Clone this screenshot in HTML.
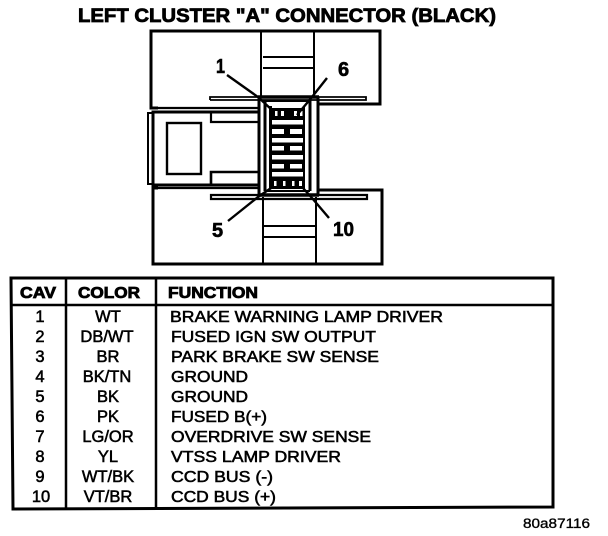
<!DOCTYPE html>
<html>
<head>
<meta charset="utf-8">
<style>
html,body{margin:0;padding:0;background:#fff;width:608px;height:536px;overflow:hidden}
svg{display:block}
text{font-family:"Liberation Sans",sans-serif;fill:#000}
.r{font-size:15.5px;stroke:#000;stroke-width:.55}
.c{font-size:16.5px;stroke:#000;stroke-width:.55}
.h{font-size:15.5px;font-weight:bold;stroke:#000;stroke-width:.8}
.n{font-size:20px;font-weight:bold;stroke:#000;stroke-width:.6}
</style>
</head>
<body>
<svg width="608" height="536" viewBox="0 0 608 536" xmlns="http://www.w3.org/2000/svg">
<text x="78" y="22" font-size="19.5" font-weight="bold" stroke="#000" stroke-width=".8" textLength="418" lengthAdjust="spacingAndGlyphs">LEFT CLUSTER "A" CONNECTOR (BLACK)</text>

<g fill="none" stroke="#000">
  <!-- top shell -->
  <path d="M158 108 H151 V31 H380 V104 H318" stroke-width="3"/>
  <path d="M261 31 V97 M314 31 V97" stroke-width="2"/>
  <path d="M263 57 H314 M263 68 H314" stroke-width="2"/>
  <path d="M210 100 V97 H366 V100 H210" stroke-width="1.8"/>
  <!-- bottom shell -->
  <path d="M158 188 H153 V264 H382 V190 H318" stroke-width="3"/>
  <path d="M263 197 V264 M316 197 V264" stroke-width="2"/>
  <path d="M264 226 H316 M264 237 H316" stroke-width="2"/>
  <path d="M211 195 H367 V199 H211 Z" stroke-width="2.2"/>
  <!-- left plug -->
  <path d="M158 108 H258" stroke-width="2.2"/>
  <path d="M158 188 H258" stroke-width="2.2"/>
  <path d="M258 112 H153 V185 H258" stroke-width="3"/>
  <path d="M153 113 H148 V184 H153" stroke-width="2"/>
  <rect x="167" y="123" width="34" height="51" stroke-width="2.4"/>
  <path d="M211 112 V122 H258" stroke-width="2.2"/>
  <path d="M258 172 H211 V184" stroke-width="2.6"/>
  <!-- center body -->
  <path d="M258 97 H319 M258 195 H319" stroke-width="3.5"/>
  <path d="M259 97 V194 M318 97 V194" stroke-width="3"/>
  <path d="M265 100 V191 M310 100 V191" stroke-width="3"/>
  <path d="M265 191 H310 M265 101 H310" stroke-width="2"/>
</g>

<!-- cavity block -->
<rect x="269" y="106" width="36" height="83" fill="#000"/>
<g fill="#fff">
  <rect x="272" y="103" width="31" height="5"/>
  <rect x="272" y="120" width="31" height="4.5"/>
  <rect x="272" y="138" width="31" height="4.5"/>
  <rect x="272" y="155" width="31" height="4.5"/>
  <rect x="272" y="172" width="31" height="4.5"/>
  <rect x="272" y="129" width="12" height="5"/>
  <rect x="290" y="129" width="12" height="5"/>
  <rect x="272" y="146" width="12" height="4.5"/>
  <rect x="290" y="146" width="12" height="4.5"/>
  <rect x="272" y="164" width="12" height="4.5"/>
  <rect x="290" y="164" width="12" height="4.5"/>
  <rect x="275" y="111" width="2.5" height="5"/>
  <rect x="281" y="111" width="3" height="5"/>
  <rect x="294" y="111" width="3" height="5"/>
  <rect x="300" y="111" width="2.5" height="5"/>
  <rect x="274" y="181" width="2.5" height="5"/>
  <rect x="283" y="181" width="2.5" height="5"/>
  <rect x="292" y="181" width="2.5" height="5"/>
  <rect x="299" y="181" width="3" height="5"/>
</g>

<!-- leaders -->
<g fill="none" stroke="#000" stroke-width="2.4">
  <path d="M227 75 L258 97 L272 110"/>
  <path d="M327 78 L312 97 L297 115"/>
  <path d="M228 221 L258 197 L274 186"/>
  <path d="M329 218 L312 198 L303 188"/>
</g>

<text class="n" x="216" y="73" textLength="9" lengthAdjust="spacingAndGlyphs">1</text>
<text class="n" x="338" y="76">6</text>
<text class="n" x="212" y="237">5</text>
<text class="n" x="333" y="236" textLength="21" lengthAdjust="spacingAndGlyphs">10</text>

<!-- table -->
<path d="M11 278 H553 V507 L13 509 Z" fill="none" stroke="#000" stroke-width="3"/>
<path d="M11 305 H553" stroke="#000" stroke-width="2.5" fill="none"/>
<path d="M66 278 V508 M156 278 V508" stroke="#000" stroke-width="2.5" fill="none"/>

<text class="h" x="20" y="298" textLength="36" lengthAdjust="spacingAndGlyphs">CAV</text>
<text class="h" x="78" y="298" textLength="62" lengthAdjust="spacingAndGlyphs">COLOR</text>
<text class="h" x="168" y="298" textLength="90" lengthAdjust="spacingAndGlyphs">FUNCTION</text>

<g text-anchor="middle">
  <text class="c" x="40" y="322">1</text>
  <text class="c" x="40" y="342">2</text>
  <text class="c" x="40" y="362">3</text>
  <text class="c" x="40" y="382">4</text>
  <text class="c" x="40" y="402">5</text>
  <text class="c" x="40" y="422">6</text>
  <text class="c" x="40" y="442">7</text>
  <text class="c" x="40" y="462">8</text>
  <text class="c" x="40" y="482">9</text>
  <text class="c" x="41" y="502">10</text>
  <text class="c" x="108" y="322">WT</text>
  <text class="c" x="107" y="342">DB/WT</text>
  <text class="c" x="108" y="362">BR</text>
  <text class="c" x="107" y="382">BK/TN</text>
  <text class="c" x="108" y="402">BK</text>
  <text class="c" x="108" y="422">PK</text>
  <text class="c" x="108" y="442">LG/OR</text>
  <text class="c" x="108" y="462">YL</text>
  <text class="c" x="108" y="482">WT/BK</text>
  <text class="c" x="108" y="502">VT/BR</text>
</g>
<text class="r" x="170" y="322" textLength="273" lengthAdjust="spacingAndGlyphs">BRAKE WARNING LAMP DRIVER</text>
<text class="r" x="171" y="342" textLength="205" lengthAdjust="spacingAndGlyphs">FUSED IGN SW OUTPUT</text>
<text class="r" x="171" y="362" textLength="208" lengthAdjust="spacingAndGlyphs">PARK BRAKE SW SENSE</text>
<text class="r" x="171" y="382" textLength="77" lengthAdjust="spacingAndGlyphs">GROUND</text>
<text class="r" x="171" y="402" textLength="77" lengthAdjust="spacingAndGlyphs">GROUND</text>
<text class="r" x="171" y="422" textLength="96" lengthAdjust="spacingAndGlyphs">FUSED B(+)</text>
<text class="r" x="171" y="442" textLength="200" lengthAdjust="spacingAndGlyphs">OVERDRIVE SW SENSE</text>
<text class="r" x="171" y="462" textLength="170" lengthAdjust="spacingAndGlyphs">VTSS LAMP DRIVER</text>
<text class="r" x="171" y="482" textLength="102" lengthAdjust="spacingAndGlyphs">CCD BUS (-)</text>
<text class="r" x="171" y="502" textLength="105" lengthAdjust="spacingAndGlyphs">CCD BUS (+)</text>

<text x="523" y="528" font-size="13.5" stroke="#000" stroke-width=".35" textLength="67" lengthAdjust="spacingAndGlyphs">80a87116</text>
</svg>
</body>
</html>
